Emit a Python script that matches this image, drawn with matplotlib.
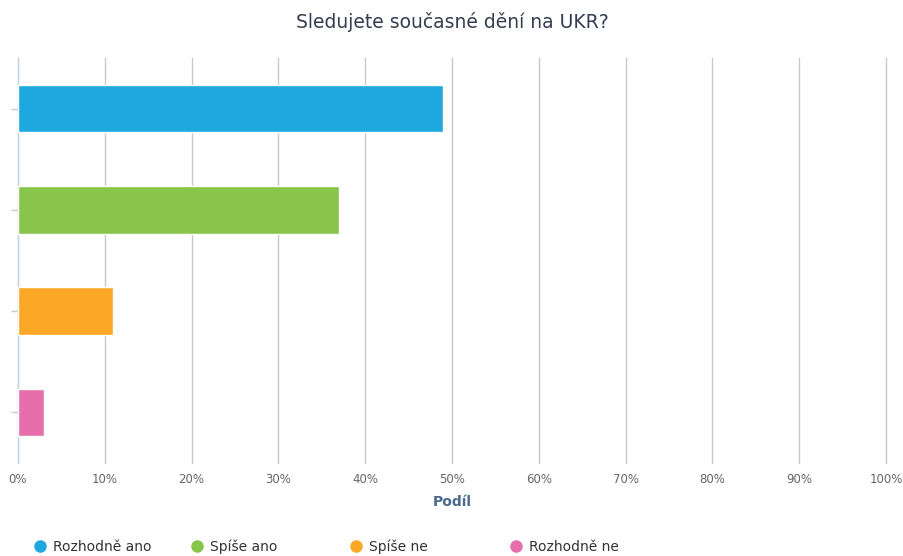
import matplotlib
matplotlib.use("Agg")
import matplotlib.pyplot as plt
from matplotlib.lines import Line2D

categories = ["Rozhodně ano", "Spíše ano", "Spíše ne", "Rozhodně ne"]
values = [49, 37, 11, 3]
colors = ["#1fa8e0", "#89c54b", "#fba826", "#e66fab"]
ticks = [0, 10, 20, 30, 40, 50, 60, 70, 80, 90, 100]

plt.rcParams["font.family"] = ["DejaVu Sans"]

fig = plt.figure(figsize=(9.04, 5.56), dpi=100)
W, H = 904, 556
ax = fig.add_axes([18 / W, 1 - 463 / H, (886 - 18) / W, (463 - 58) / H])

pos = list(range(len(categories)))
ax.barh(pos, values, height=0.47, color=colors, edgecolor="white", linewidth=1, zorder=3)
ax.set_ylim(len(categories) - 0.5, -0.5)
ax.set_xlim(0, 100)

ax.set_xticks(ticks)
ax.set_xticklabels([f"{t}%" for t in ticks], fontsize=8.5, color="#666666")
ax.set_yticks(pos)
ax.set_yticklabels([])
ax.tick_params(axis="x", length=0, pad=7)
ax.tick_params(axis="y", length=5, color="#c0d0e0", width=1)

ax.grid(axis="x", color="#c8c8c8", linewidth=1, zorder=0)
for gl in ax.get_xgridlines():
    gl.set_clip_on(False)
for s in ["top", "right", "bottom"]:
    ax.spines[s].set_visible(False)
ax.spines["left"].set_color("#c0d0e0")

ax.set_xlabel("Podíl", fontsize=10, fontweight="bold", color="#4a6a8c", labelpad=7)
fig.text(0.5, 1 - 22 / H, "Sledujete současné dění na UKR?", ha="center", va="center",
         fontsize=13.5, color="#333d4f")

# legend entries at fixed column positions
legend_x = [34.5, 191.5, 350.5, 510.5]
for lx, lab, c in zip(legend_x, categories, colors):
    h = Line2D([], [], marker="o", linestyle="", markersize=8, color=c)
    fig.legend([h], [lab], loc="center left", bbox_to_anchor=(lx / W, 1 - 547 / H),
               frameon=False, fontsize=10, handlelength=0.8, handletextpad=0.55,
               borderpad=0, borderaxespad=0, labelcolor="#333333")

fig.savefig("out.png", dpi=100)
